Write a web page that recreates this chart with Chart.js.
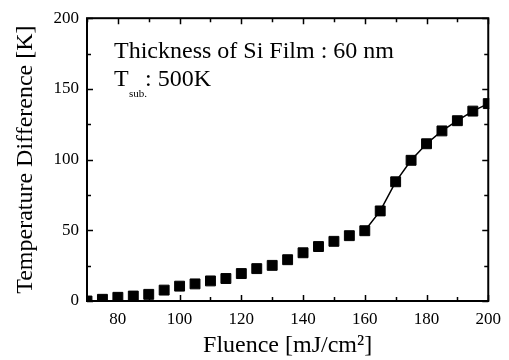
<!DOCTYPE html>
<html>
<head>
<meta charset="utf-8">
<script src="https://cdn.jsdelivr.net/npm/chart.js@4/dist/chart.umd.min.js"></script>
<style>
  html, body { margin: 0; padding: 0; background: #fff; }
  #wrap { width: 509px; height: 360px; }
</style>
</head>
<body>
<div id="wrap"><canvas id="chart" width="509" height="360"></canvas></div>
<script>
// fluence (mJ/cm2) and temperature difference (K)
const fluence = [70, 75, 80, 85, 90, 95, 100, 105, 110, 115, 120, 125, 130, 135,
  140, 145, 150, 155, 160, 165, 170, 175, 180, 185, 190, 195, 200];
const tempDiff = [0, 1.2, 2.6, 3.5, 4.7, 7.7, 10.5, 12.1, 14.2, 15.9, 19.4, 22.9, 25.2, 29.2,
  34.1, 38.5, 42.2, 46.2, 49.7, 63.7, 84.3, 99.5, 111.2, 120.3, 127.5, 134.3, 139.6];
const lineFrom = 160; // connecting line only drawn from here on

const xTickLabels = [80, 100, 120, 140, 160, 180, 200];
const yTickLabels = [0, 50, 100, 150, 200];

const serif = "'Liberation Serif', 'Times New Roman', serif";

const points = fluence.map((f, i) => ({ x: f, y: tempDiff[i] }));

// frame + inward ticks on all four sides
const frame = {
  id: "frame",
  afterDatasetsDraw(chart) {
    const { ctx, chartArea: a, scales: { x, y } } = chart;
    ctx.save();
    ctx.strokeStyle = "#000";
    ctx.lineWidth = 1.5;
    for (let v = x.min; v <= x.max; v += 10) {
      const px = Math.round(x.getPixelForValue(v)) + 0.5;
      const len = xTickLabels.includes(v) ? 6 : 4;
      ctx.beginPath();
      ctx.moveTo(px, a.bottom); ctx.lineTo(px, a.bottom - len);
      ctx.moveTo(px, a.top); ctx.lineTo(px, a.top + len);
      ctx.stroke();
    }
    for (let v = y.min; v <= y.max; v += 25) {
      const py = Math.round(y.getPixelForValue(v)) + 0.5;
      const len = yTickLabels.includes(v) ? 6 : 4;
      ctx.beginPath();
      ctx.moveTo(a.left, py); ctx.lineTo(a.left + len, py);
      ctx.moveTo(a.right, py); ctx.lineTo(a.right - len, py);
      ctx.stroke();
    }
    ctx.lineWidth = 2;
    ctx.strokeRect(a.left, a.top, a.right - a.left, a.bottom - a.top);
    ctx.restore();
  },
  afterDraw(chart) {
    const { ctx, chartArea: a } = chart;
    ctx.save();
    ctx.fillStyle = "#000";
    ctx.textBaseline = "alphabetic";
    ctx.textAlign = "left";
    ctx.font = "24px " + serif;
    ctx.fillText("Thickness of Si Film : 60 nm", a.left + 27, a.top + 40);
    ctx.fillText("T", a.left + 27, a.top + 68);
    ctx.font = "11px " + serif;
    ctx.fillText("sub.", a.left + 42, a.top + 79);
    ctx.font = "24px " + serif;
    ctx.fillText(": 500K", a.left + 58, a.top + 68);
    ctx.restore();
  }
};

new Chart(document.getElementById("chart"), {
  type: "scatter",
  data: {
    datasets: [{
      data: points,
      showLine: true,
      borderColor: "#000",
      borderWidth: 1.5,
      segment: {
        borderColor: c => c.p0.parsed.x >= lineFrom ? "#000" : "rgba(0,0,0,0)"
      },
      pointStyle: "rect",
      pointRadius: 7,
      pointBorderWidth: 1,
      pointBackgroundColor: "#000",
      pointBorderColor: "#000",
      clip: 1
    }]
  },
  options: {
    responsive: false,
    animation: false,
    layout: { padding: { top: 15, right: 19, left: 0, bottom: 0 } },
    plugins: { legend: { display: false }, tooltip: { enabled: false } },
    scales: {
      x: {
        type: "linear",
        min: 70,
        max: 200,
        afterBuildTicks: s => { s.ticks = xTickLabels.map(v => ({ value: v })); },
        afterFit: s => { s.height = 59; },
        grid: { display: false, drawTicks: false },
        border: { display: false },
        ticks: { color: "#000", font: { family: serif, size: 17 }, padding: 8, maxRotation: 0 },
        title: {
          display: true,
          text: "Fluence [mJ/cm²]",
          color: "#000",
          font: { family: serif, size: 24 },
          padding: { top: 0, bottom: 0 }
        }
      },
      y: {
        min: 0,
        max: 200,
        afterBuildTicks: s => { s.ticks = yTickLabels.map(v => ({ value: v })); },
        afterFit: s => { s.width = 87; },
        grid: { display: false, drawTicks: false },
        border: { display: false },
        ticks: { color: "#000", font: { family: serif, size: 17 }, padding: 8 },
        title: {
          display: true,
          text: "Temperature Difference [K]",
          color: "#000",
          font: { family: serif, size: 24 },
          padding: { top: 11, bottom: 0 }
        }
      }
    }
  },
  plugins: [frame]
});
</script>
</body>
</html>
